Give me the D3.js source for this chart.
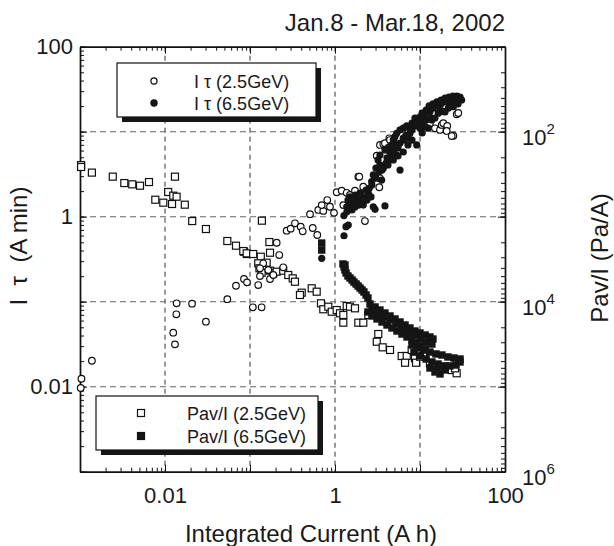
<!DOCTYPE html>
<html lang="en">
<head>
<meta charset="UTF-8">
<title>I tau and Pav/I vs integrated current</title>
<script src="https://cdn.jsdelivr.net/npm/d3@7/dist/d3.min.js"></script>
<style>
body{margin:0;background:#fff}
text{font-family:"Liberation Sans",Arial,Helvetica,sans-serif;fill:#1a1a1a}
</style>
</head>
<body>
<div class="chart"></div>
<script>
// integrated current (A h) vs I*tau (A min)
let itau25=[[0.00102,0.00966],[0.00104,0.0124],[0.00138,0.0202],
[0.0125,0.0432],[0.0131,0.0315],[0.0136,0.0711],[0.0137,0.0958],[0.0208,0.0947],[0.0303,0.0582],[0.0541,0.107],[0.0684,0.154],[0.085,0.185],[0.0922,0.169],
[0.108,0.0859],[0.137,0.0859],[0.125,0.157],[0.131,0.200],[0.143,0.283],[0.131,0.247],[0.164,0.236],[0.172,0.185],[0.188,0.206],[0.246,0.254],[0.206,0.494],[0.221,0.354],
[0.270,0.684],[0.301,0.723],[0.338,0.836],[0.395,0.763],[0.417,0.673],[0.547,0.736],[0.619,0.609],[0.636,1.20],[0.508,1.07],[0.728,1.17],[0.698,1.37],[0.811,1.57],[0.873,1.31],[0.973,1.11],
[1.047,1.94],[1.20,2.02],[1.373,1.91],[1.501,1.80],[1.718,2.02],[1.253,1.37],[2.25,0.889],[1.88,2.96],[1.93,2.96],[2.15,2.25],[3.32,2.22],[2.36,1.80],[3.38,2.83],
[3.10,5.22],[3.38,6.98],[3.70,7.16],[3.87,7.31],[4.35,8.36],[4.85,7.83],[4.44,7.98],
[13.1,12.6],[15.0,10.96],[17.2,10.5],[18.0,12.0],[18.8,12.6],[20.9,11.7],[20.6,10.2],[24.7,8.97],[23.6,8.89],[27.0,16.0],[28.2,16.6]]
let itau65=[[0.698,0.324],[1.276,0.597],[1.347,0.763],[1.433,0.798],[1.276,1.03],[1.373,1.31],[1.501,1.37],[1.641,1.44],[1.80,1.37],[1.97,1.44],[2.15,1.50],[2.25,1.64],
[2.466,1.88],[2.53,2.16],[2.70,2.58],[2.82,3.10],[2.82,1.31],[2.96,1.22],[3.87,1.34],[3.54,2.70],[3.38,4.06],[3.70,3.71],[5.82,3.54],[3.38,5.32],[3.87,6.09],
[4.24,6.55],[4.65,6.98],[4.85,7.98],[5.08,8.73],[5.32,9.57],[5.82,10.5],[6.36,11.0],[6.98,11.7],[5.32,5.32],[9.15,6.98],[7.62,9.57],[8.34,11.5],[9.15,13.7],
[10.0,15.0],[11.5,15.7],[13.1,17.2],[14.3,18.9],[15.7,20.6],[18.0,21.6],[20.6,22.5],[23.6,22.5],[27.0,23.2],[30.9,23.6],[10.0,11.0],[12.5,11.0],[16.4,16.5],
[18.8,17.2],[21.5,18.9],[24.7,19.7],[1.501,1.71],[1.718,1.80],[1.97,1.90],[1.42,1.57],[1.82,1.57],[2.08,1.71],[1.585,1.20],[3.03,3.74],[3.21,4.65],[4.09,4.91],
[4.44,5.77],[5.51,6.98],[6.48,7.98],[7.22,8.43],[8.05,10.5],[9.47,11.7],[10.6,13.0],[11.8,13.7],[13.5,14.5],[17.2,18.5],[22.5,20.6],[28.0,21.2],[10.6,9.66],[13.8,13.7],
[2.72,2.36],[3.03,2.85],[3.29,3.36],[3.57,3.54],[3.98,4.28],[4.32,4.65],[4.68,5.32],[4.94,6.09],[5.51,6.43],[5.82,7.36],[6.36,8.43],[6.84,9.14],[7.43,11.1],
[8.05,12.6],[8.73,14.5],[9.47,13.0],[10.6,16.6],[11.8,18.0],[12.8,20.1],[14.2,21.2],[15.8,22.4],[17.7,23.6],[19.7,24.9],[21.9,25.6],[24.4,26.3],[27.2,26.3],
[29.6,25.6],[4.20,4.06],[4.85,4.65],[5.51,5.18],[6.36,5.77],[7.22,6.98],[8.05,7.98],[11.5,11.4],[15.0,14.5],[19.7,17.1],
[1.38,1.14],[1.54,1.27],[1.72,1.30],[1.92,1.37],[2.15,1.37],[2.38,1.57],[2.65,1.71],[2.32,2.06],[1.87,1.71],[1.67,1.57]]
// integrated current (A h) vs Pav/I (Pa/A)
let pav25=[[0.00103,247],[0.00103,260],[0.00138,303],[0.00243,338],[0.00332,402],[0.00412,416],[0.00508,432],[0.00648,391],[0.0131,338],[0.0109,512],[0.0125,566],
[0.0137,582],[0.00769,631],[0.00955,684],[0.0121,709],[0.0171,722],[0.0209,1125],[0.0303,1396],[0.0541,1932],[0.0684,2193],[0.085,2582],[0.0922,2748],
[0.138,1114],[0.169,1986],[0.172,2654],[0.0834,2535],[0.0914,2698],[0.109,2748],[0.134,2958],[0.125,3532],[0.157,3475],[0.129,4046],[0.137,4560],[0.172,4315],
[0.188,4634],[0.206,4437],[0.246,4315],[0.282,4853],[0.318,5309],[0.338,5821],[0.406,7834],[0.387,8336],[0.532,6955],[0.609,7626],[0.684,10440],[0.728,12280],
[0.834,11450],[0.915,13120],[1.047,12530],[1.145,13680],[1.253,14330],[1.253,17660],[1.373,11240],[1.501,11450],[1.718,11960],[1.88,17660],[2.153,17660],
[2.466,14330],[3.23,23990],[3.10,29580],[3.64,34420],[4.44,36980],[6.09,43550],[6.98,43550],[6.67,52240],[8.73,46340],[8.98,52240],[7.98,36980],[10.9,43550],
[13.1,53090],[14.3,57020],[15.7,63680],[19.7,58210],[23.6,63680],[27.0,69500],[25.8,60810],[10.0,44360]]
let pav65=[[0.698,2040],[0.698,2470],[1.24,3600],[1.31,3700],[1.28,3910],[1.31,4240],[1.35,4600],[1.42,4980],[1.50,5260],[1.59,5560],[1.67,5870],[1.77,6190],
[1.87,6540],[1.97,6900],[2.08,7280],[2.19,7690],[2.32,8340],[2.44,9040],
[2.58,10640],[2.96,11540],[3.38,12520],[3.87,13580],[4.44,14720],[5.08,15960],[5.82,17330],[6.67,18790],[7.62,20380],[8.73,22120],[10.0,23340],[11.5,24660],
[13.1,26000],[14.2,27480],
[2.72,12520],[3.21,13960],[3.77,15140],[4.44,16410],[5.22,18280],[6.14,20380],[7.22,22120],[8.49,24660],[10.0,27480],[11.8,29790],[13.8,31480],
[2.44,13210],[2.72,14720],[3.12,15960],[3.57,17330],[4.09,18790],[4.68,20380],[5.36,22120],[6.14,23990],[7.03,26000],[8.05,28230],[8.98,30620],[10.0,33200],
[11.5,35970],
[8.05,32280],[9.47,35060],[11.1,36980],[13.1,39080],[15.4,41210],[18.1,42360],[21.3,44670],[25.1,45920],[29.6,47210],
[8.49,39080],[10.0,43550],[11.8,47210],[13.8,51170],[16.3,54080],[19.2,57020],[22.5,57020],[26.5,55590],[29.6,51170],
[13.1,60260],[15.0,67140],[17.2,70790],[15.8,63530],[19.7,63530]]

let decades=[0.001,0.01,0.1,1,10,100]
let xLabels=[0.01,1,100]
let yLabels=[0.01,1,100]
let rightDecades=[10,100,1e3,1e4,1e5,1e6]
let rightLabels=[100,1e4,1e6]

let W=614,H=546
let L=80,T=46.7,R=505,B=471.7
let svg=d3.select('.chart').append('svg').attr('width',W).attr('height',H)

let x=d3.scaleLog().domain([0.001,100]).range([L,R])
let yL=d3.scaleLog().domain([0.001,100]).range([B,T])
let yR=d3.scaleLog().domain([10,1e6]).range([T,B])

// grid
let grid=svg.append('g')
grid.selectAll('.gx').data(decades.slice(1,-1)).enter().append('line')
  .attr('x1',d=>x(d)).attr('x2',d=>x(d)).attr('y1',T).attr('y2',B)
  .attr('stroke','#333').attr('stroke-width',1).attr('stroke-dasharray','5,4')
grid.selectAll('.gy').data(decades.slice(1,-1)).enter().append('line')
  .attr('y1',d=>yL(d)).attr('y2',d=>yL(d)).attr('x1',L).attr('x2',R)
  .attr('stroke','#666').attr('stroke-width',1.1).attr('stroke-dasharray','6,4')

function styleAxis(g){
  g.selectAll('path').attr('stroke','#111').attr('stroke-width',1.4)
  g.selectAll('line').attr('stroke','#111').attr('stroke-width',1)
  g.selectAll('text').attr('font-size',22).attr('font-family','"Liberation Sans",Arial,sans-serif').attr('fill','#1a1a1a')
}
let fmt=(list)=>(d=>list.indexOf(d)>=0?d3.format('~g')(d):'')

// bottom
let gb=svg.append('g').attr('transform','translate(0,'+B+')')
gb.append('g').call(d3.axisBottom(x).tickValues(x.ticks()).tickSize(-4).tickSizeOuter(0).tickFormat(''))
gb.append('g').call(d3.axisBottom(x).tickValues(decades).tickSize(-7).tickSizeOuter(0).tickPadding(16).tickFormat(fmt(xLabels)))
styleAxis(gb)
// top
let gt=svg.append('g').attr('transform','translate(0,'+T+')')
gt.append('g').call(d3.axisTop(x).tickValues(x.ticks()).tickSize(-4).tickSizeOuter(0).tickFormat(''))
gt.append('g').call(d3.axisTop(x).tickValues(decades).tickSize(-7).tickSizeOuter(0).tickFormat(''))
styleAxis(gt)
// left
let gl=svg.append('g').attr('transform','translate('+L+',0)')
gl.append('g').call(d3.axisLeft(yL).tickValues(yL.ticks()).tickSize(-4).tickSizeOuter(0).tickFormat(''))
gl.append('g').call(d3.axisLeft(yL).tickValues(decades).tickSize(-7).tickSizeOuter(0).tickPadding(7).tickFormat(fmt(yLabels)))
styleAxis(gl)
// right
let gr=svg.append('g').attr('transform','translate('+R+',0)')
gr.append('g').call(d3.axisRight(yR).tickValues(yR.ticks()).tickSize(-4).tickSizeOuter(0).tickFormat(''))
let grm=gr.append('g').call(d3.axisRight(yR).tickValues(rightDecades).tickSize(-7).tickSizeOuter(0).tickPadding(17).tickFormat(d=>rightLabels.indexOf(d)>=0?'x':''))
styleAxis(gr)
grm.selectAll('.tick text').each(function(d){
  let t=d3.select(this)
  if(t.text()==='')return
  t.text('').attr('dy','0.58em')
  t.append('tspan').text('10')
  t.append('tspan').attr('dy',-11).attr('font-size',15).text(Math.round(Math.log10(d)))
})

// points
let pts=svg.append('g')
pts.selectAll('.sq25').data(pav25).enter().append('rect')
  .attr('x',d=>x(d[0])-3.5).attr('y',d=>yR(d[1])-3.5).attr('width',7).attr('height',7)
  .attr('fill','#fff').attr('stroke','#111').attr('stroke-width',1.2)
pts.selectAll('.sq65').data(pav65).enter().append('rect')
  .attr('x',d=>x(d[0])-3.7).attr('y',d=>yR(d[1])-3.7).attr('width',7.4).attr('height',7.4)
  .attr('fill','#151515')
pts.selectAll('.c25').data(itau25).enter().append('circle')
  .attr('cx',d=>x(d[0])).attr('cy',d=>yL(d[1])).attr('r',3.3)
  .attr('fill','#fff').attr('stroke','#111').attr('stroke-width',1.2)
pts.selectAll('.c65').data(itau65).enter().append('circle')
  .attr('cx',d=>x(d[0])).attr('cy',d=>yL(d[1])).attr('r',3.6)
  .attr('fill','#151515')

// legends
function legend(x0,y0,w,h,items){
  let g=svg.append('g')
  g.append('rect').attr('x',x0+5).attr('y',y0+5).attr('width',w).attr('height',h).attr('fill','#151515')
  g.append('rect').attr('x',x0).attr('y',y0).attr('width',w).attr('height',h).attr('fill','#fff').attr('stroke','#111').attr('stroke-width',1.2)
  items.forEach(function(it){
    if(it.shape==='circle'){
      g.append('circle').attr('cx',it.mx).attr('cy',it.my).attr('r',3.1)
        .attr('fill',it.fill?'#151515':'#fff').attr('stroke','#111').attr('stroke-width',1.2)
    }else{
      g.append('rect').attr('x',it.mx-3.5).attr('y',it.my-3.5).attr('width',7).attr('height',7)
        .attr('fill',it.fill?'#151515':'#fff').attr('stroke','#111').attr('stroke-width',1.2)
    }
    g.append('text').attr('x',it.tx).attr('y',it.my+6.5).attr('font-size',18).style('white-space','pre').text(it.label)
  })
}
legend(117,63,199,54,[
  {shape:'circle',fill:false,mx:154,my:81,tx:194,label:'I τ (2.5GeV)'},
  {shape:'circle',fill:true,mx:154,my:103,tx:194,label:'I τ (6.5GeV)'}])
legend(96,396,222,54,[
  {shape:'square',fill:false,mx:141,my:413,tx:187,label:'Pav/I (2.5GeV)'},
  {shape:'square',fill:true,mx:141,my:436,tx:187,label:'Pav/I (6.5GeV)'}])

// titles
svg.append('text').attr('x',505).attr('y',31).attr('text-anchor','end').attr('font-size',24).text('Jan.8 - Mar.18, 2002')
svg.append('text').attr('x',311).attr('y',542).attr('text-anchor','middle').attr('font-size',24).text('Integrated Current (A h)')
svg.append('text').attr('transform','translate(27,246) rotate(-90)').attr('text-anchor','middle').attr('font-size',24)
  .style('white-space','pre').text('I  τ  (A min)')
svg.append('text').attr('transform','translate(608,258) rotate(-90)').attr('text-anchor','middle').attr('font-size',24).text('Pav/I (Pa/A)')
</script>
</body>
</html>
